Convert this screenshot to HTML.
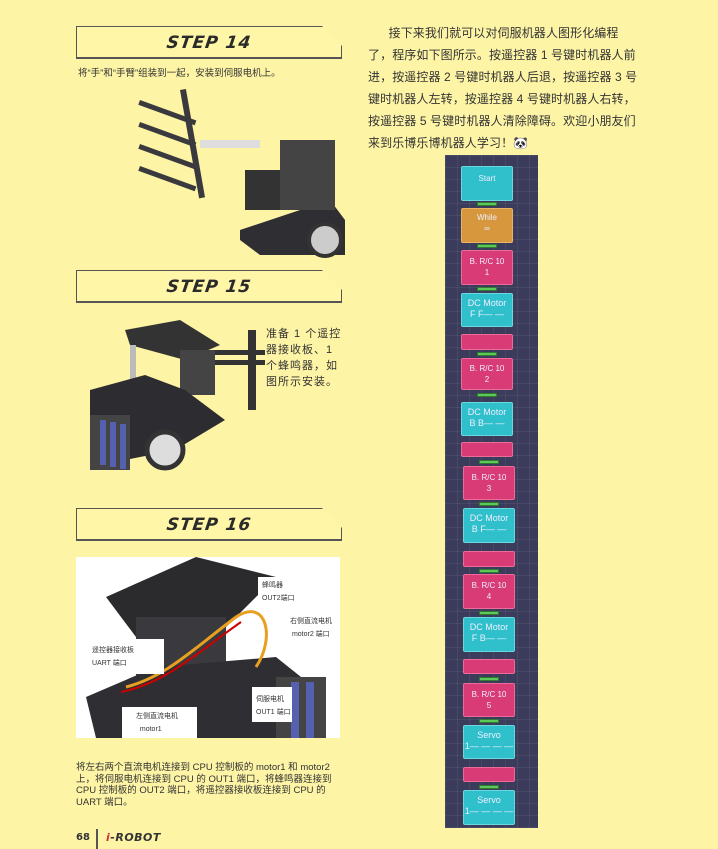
<!DOCTYPE html>
<html><head><meta charset="utf-8"><style>
*{margin:0;padding:0;box-sizing:border-box}
body{width:718px;height:849px;background:#fdf4a6;position:relative;overflow:hidden;font-family:"Liberation Sans","Noto Sans CJK SC",sans-serif;color:#333}
.abs{position:absolute}
.step{position:absolute;left:76px;width:266px;height:33px;border:1.5px solid #555;border-bottom-width:2px;background:#fff6a8;clip-path:polygon(0 0,246px 0,100% 20px,100% 100%,0 100%)}
.step span{position:absolute;left:0;right:0;top:6px;text-align:center;font:italic 900 17px "DejaVu Sans",sans-serif;color:#2a2a2a;letter-spacing:1px;transform:skewX(-8deg)}
.small{font-size:9.5px;color:#333;line-height:13px}
.rt{position:absolute;left:368px;top:22px;width:300px;font-size:12px;line-height:22px;color:#333;letter-spacing:0.1px;white-space:nowrap}
.panel{position:absolute;left:445px;top:155px;width:93px;height:673px;background:#3b3c5c;
background-image:linear-gradient(rgba(255,255,255,.06) 1px,transparent 1px),linear-gradient(90deg,rgba(255,255,255,.06) 1px,transparent 1px);background-size:12px 12px}
.b{position:absolute;width:52px;border-radius:2px;text-align:center;color:#eef;font-size:8px;line-height:11px}
.c{background:#2fc0cc;border:1px solid #6ad8df}
.o{background:#d6973d;border:1px solid #e8b466}
.p{background:#d93b76;border:1px solid #ee6a98}
.k{position:absolute;width:20px;height:4px;background:#5cc85a;border:1px solid #2f7a2f}
</style></head><body>

<div class="step" style="top:26px"><span>STEP 14</span></div>
<div class="abs small" style="left:78px;top:67px">将“手”和“手臂”组装到一起，安装到伺服电机上。</div>
<svg class="abs" style="left:130px;top:80px" width="215" height="185">
<g fill="#3a3a3e">
<rect x="10" y="20" width="60" height="5" transform="rotate(20 10 20)"/>
<rect x="10" y="42" width="60" height="5" transform="rotate(20 10 42)"/>
<rect x="10" y="64" width="60" height="5" transform="rotate(20 10 64)"/>
<rect x="10" y="86" width="60" height="5" transform="rotate(20 10 86)"/>
<rect x="50" y="10" width="6" height="110" transform="rotate(-10 50 10)"/>
<rect x="70" y="60" width="60" height="8" fill="#ddd"/>
<rect x="115" y="90" width="40" height="40" fill="#333"/>
<polygon points="110,150 200,120 215,140 215,175 130,175 110,160" fill="#2f2f33"/>
<rect x="150" y="60" width="55" height="70" fill="#444"/>
</g>
<circle cx="195" cy="160" r="16" fill="#ccc" stroke="#333" stroke-width="4"/>
</svg>

<div class="step" style="top:270px"><span>STEP 15</span></div>
<svg class="abs" style="left:85px;top:320px" width="180" height="160">
<polygon points="40,10 95,0 135,25 100,40 45,25" fill="#333"/>
<rect x="45" y="25" width="6" height="50" fill="#bbb"/>
<rect x="95" y="30" width="35" height="45" fill="#444"/>
<rect x="130" y="30" width="60" height="5" fill="#333"/>
<rect x="130" y="40" width="60" height="5" fill="#333"/>
<rect x="163" y="10" width="8" height="80" fill="#333"/>
<polygon points="5,70 60,55 100,70 140,100 90,130 40,140 5,120" fill="#2d2d31"/>
<rect x="5" y="95" width="40" height="55" fill="#444"/>
<rect x="15" y="100" width="6" height="45" fill="#5560b0"/><rect x="25" y="102" width="6" height="45" fill="#5560b0"/><rect x="35" y="104" width="6" height="45" fill="#5560b0"/>
<circle cx="80" cy="130" r="18" fill="#ddd" stroke="#333" stroke-width="5"/>
</svg>
<div class="abs" style="left:266px;top:326px;width:76px;font-size:11px;line-height:16px;color:#333;letter-spacing:1px">准备 1 个遥控器接收板、1 个蜂鸣器，如图所示安装。</div>

<div class="step" style="top:508px"><span>STEP 16</span></div>
<div class="abs" style="left:76px;top:557px;width:264px;height:181px;background:#fff;overflow:hidden">
<svg width="264" height="181">
<polygon points="30,40 120,0 200,20 150,70 60,80" fill="#2b2b2e"/>
<rect x="60" y="60" width="90" height="80" fill="#3a3a3e"/>
<polygon points="10,140 80,110 200,100 250,140 240,181 20,181" fill="#2f2f33"/>
<rect x="200" y="120" width="50" height="61" fill="#444"/>
<rect x="215" y="125" width="8" height="56" fill="#5560b0"/><rect x="230" y="125" width="8" height="56" fill="#5560b0"/>
<path d="M50 130 C90 120 120 90 160 60 C190 40 200 80 180 110" stroke="#e8a020" stroke-width="3" fill="none"/>
<path d="M45 135 C90 126 122 95 165 65" stroke="#c00" stroke-width="2" fill="none"/>
<rect x="182" y="20" width="38" height="30" fill="#fff"/>
<rect x="208" y="55" width="56" height="30" fill="#fff"/>
<rect x="8" y="82" width="80" height="35" fill="#fff"/>
<rect x="176" y="130" width="40" height="35" fill="#fff"/>
<rect x="46" y="150" width="75" height="31" fill="#fff"/>
</svg>
<div class="abs" style="left:186px;top:22px;font-size:7px;line-height:13px">蜂鸣器<br>OUT2端口</div>
<div class="abs" style="left:214px;top:58px;font-size:7px;line-height:13px">右侧直流电机<br>&nbsp;motor2 端口</div>
<div class="abs" style="left:16px;top:87px;font-size:7px;line-height:13px">遥控器接收板<br>UART 端口</div>
<div class="abs" style="left:180px;top:136px;font-size:7px;line-height:13px">伺服电机<br>OUT1 端口</div>
<div class="abs" style="left:60px;top:153px;font-size:7px;line-height:13px">左侧直流电机<br>&nbsp;&nbsp;motor1</div>
</div>
<div class="abs" style="left:76px;top:762px;width:266px;font-size:9.5px;line-height:11.5px;color:#333">将左右两个直流电机连接到 CPU 控制板的 motor1 和 motor2 上，将伺服电机连接到 CPU 的 OUT1 端口，将蜂鸣器连接到 CPU 控制板的 OUT2 端口，将遥控器接收板连接到 CPU 的 UART 端口。</div>
<div class="abs" style="left:76px;top:832px;font:bold 10px 'DejaVu Sans',sans-serif">68</div>
<div class="abs" style="left:96px;top:829px;width:2px;height:20px;background:#555"></div>
<div class="abs" style="left:106px;top:831px;font:italic 900 11px 'DejaVu Sans',sans-serif;color:#333;letter-spacing:.5px"><span style="color:#d0303a">i</span>-ROBOT</div>

<div class="rt">&nbsp;&nbsp;&nbsp;&nbsp;&nbsp;&nbsp;接下来我们就可以对伺服机器人图形化编程<br>了，程序如下图所示。按遥控器 1 号键时机器人前<br>进，按遥控器 2 号键时机器人后退，按遥控器 3 号<br>键时机器人左转，按遥控器 4 号键时机器人右转，<br>按遥控器 5 号键时机器人清除障碍。欢迎小朋友们<br>来到乐博乐博机器人学习！🐼</div>

<div class="panel"></div>
<div class="b c" style="left:461px;top:166px;height:35px;padding-top:6px">Start</div>
<div class="k" style="left:477px;top:202px"></div>
<div class="b o" style="left:461px;top:208px;height:35px;padding-top:3px">While<br>∞</div>
<div class="k" style="left:477px;top:244px"></div>
<div class="b p" style="left:461px;top:250px;height:35px;padding-top:5px">B. R/C 10<br>1</div>
<div class="k" style="left:477px;top:287px"></div>
<div class="b c" style="left:461px;top:293px;height:34px;padding-top:4px;font-size:9px">DC Motor<br>F F— —</div>
<div class="b p" style="left:461px;top:334px;height:16px"></div>
<div class="k" style="left:477px;top:352px"></div>
<div class="b p" style="left:461px;top:358px;height:32px;padding-top:4px">B. R/C 10<br>2</div>
<div class="k" style="left:477px;top:393px"></div>
<div class="b c" style="left:461px;top:402px;height:34px;padding-top:4px;font-size:9px">DC Motor<br>B B— —</div>
<div class="b p" style="left:461px;top:442px;height:15px"></div>
<div class="k" style="left:479px;top:460px"></div>
<div class="b p" style="left:463px;top:466px;height:34px;padding-top:5px">B. R/C 10<br>3</div>
<div class="k" style="left:479px;top:502px"></div>
<div class="b c" style="left:463px;top:508px;height:35px;padding-top:4px;font-size:9px">DC Motor<br>B F— —</div>
<div class="b p" style="left:463px;top:551px;height:16px"></div>
<div class="k" style="left:479px;top:569px"></div>
<div class="b p" style="left:463px;top:574px;height:35px;padding-top:5px">B. R/C 10<br>4</div>
<div class="k" style="left:479px;top:611px"></div>
<div class="b c" style="left:463px;top:617px;height:35px;padding-top:4px;font-size:9px">DC Motor<br>F B— —</div>
<div class="b p" style="left:463px;top:659px;height:15px"></div>
<div class="k" style="left:479px;top:677px"></div>
<div class="b p" style="left:463px;top:683px;height:34px;padding-top:5px">B. R/C 10<br>5</div>
<div class="k" style="left:479px;top:719px"></div>
<div class="b c" style="left:463px;top:725px;height:34px;padding-top:4px;font-size:9px">Servo<br>1— — — —</div>
<div class="b p" style="left:463px;top:767px;height:15px"></div>
<div class="k" style="left:479px;top:785px"></div>
<div class="b c" style="left:463px;top:790px;height:35px;padding-top:4px;font-size:9px">Servo<br>1— — — —</div>
</body></html>
